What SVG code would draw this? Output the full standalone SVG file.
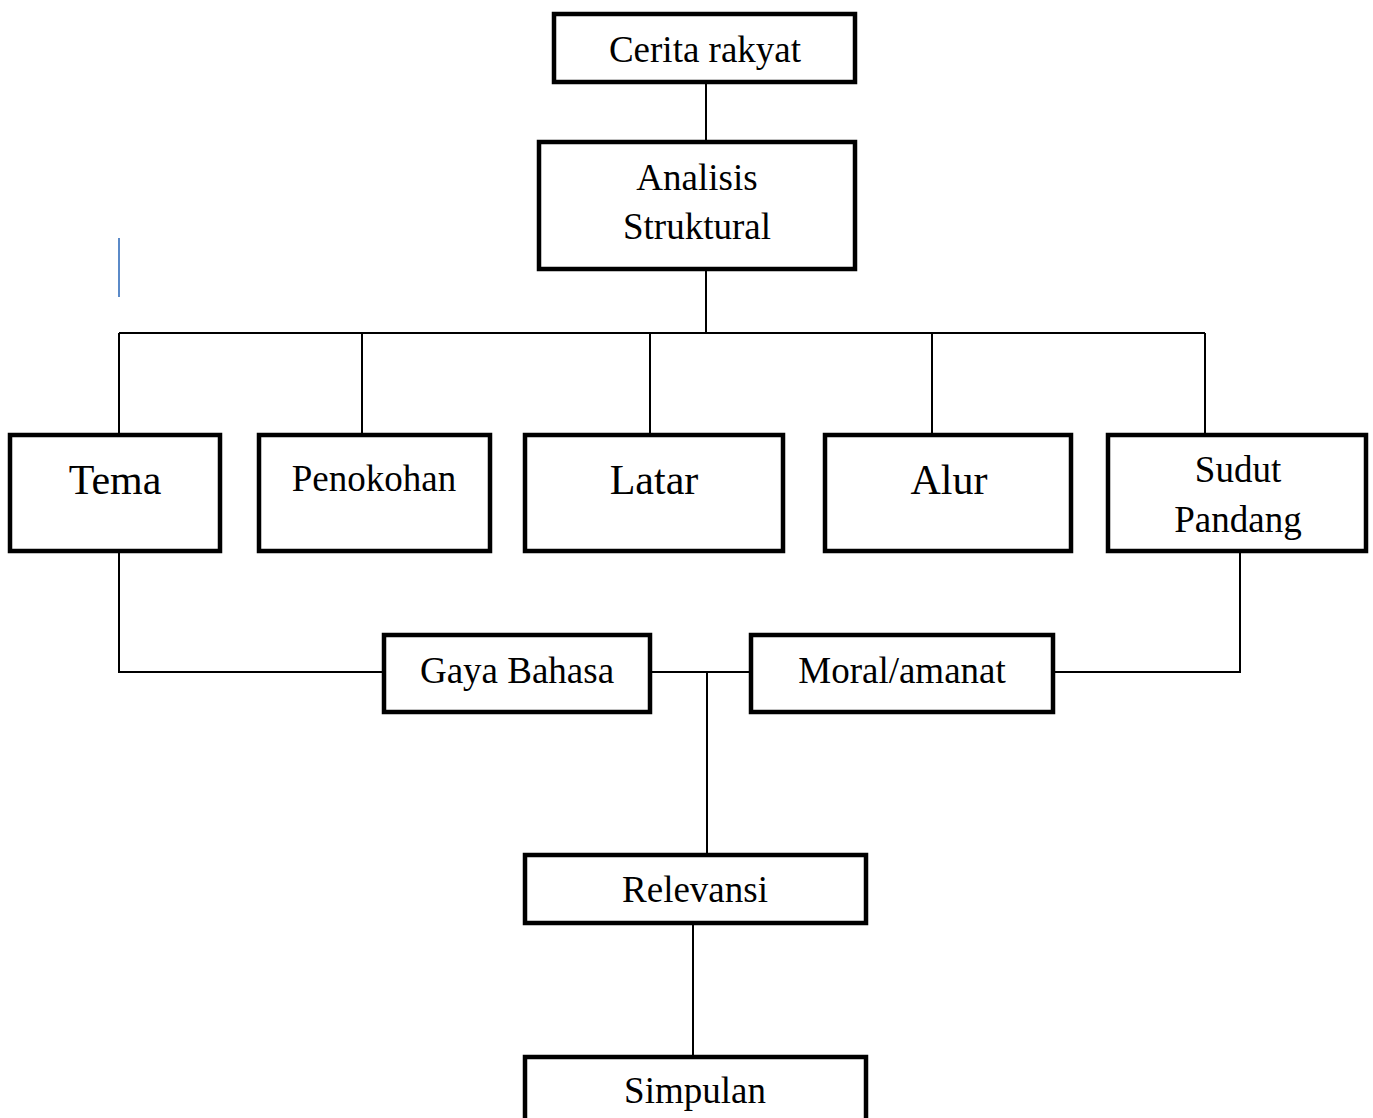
<svg xmlns="http://www.w3.org/2000/svg" width="1373" height="1118" viewBox="0 0 1373 1118">
<style>
.box{fill:#fff;stroke:#000;stroke-width:4.5}
.t{font-family:"Liberation Serif","Times New Roman",serif;font-size:37px;fill:#000;text-anchor:middle}
.big{font-size:42px}
.c{fill:none;stroke:#000;stroke-width:2}
</style>
<rect width="1373" height="1118" fill="#fff"/>
<g id="connectors">
<line class="c" x1="706" y1="83" x2="706" y2="142"/>
<line class="c" x1="706" y1="270" x2="706" y2="333"/>
<line class="c" x1="119" y1="333" x2="1205" y2="333"/>
<line class="c" x1="119" y1="333" x2="119" y2="435"/>
<line class="c" x1="362" y1="333" x2="362" y2="435"/>
<line class="c" x1="650" y1="333" x2="650" y2="435"/>
<line class="c" x1="932" y1="333" x2="932" y2="435"/>
<line class="c" x1="1205" y1="333" x2="1205" y2="435"/>
<polyline class="c" points="119,553 119,672 383,672"/>
<polyline class="c" points="1240,553 1240,672 1055,672"/>
<line class="c" x1="651" y1="672" x2="750" y2="672"/>
<line class="c" x1="707" y1="672" x2="707" y2="853"/>
<line class="c" x1="693" y1="925" x2="693" y2="1055"/>
</g>
<line x1="119" y1="238" x2="119" y2="297" stroke="#5b8ac8" stroke-width="2"/>
<g id="cerita"><rect class="box" x="554" y="14" width="301" height="68"/><text class="t" x="705" y="62">Cerita rakyat</text></g>
<g id="analisis"><rect class="box" x="539" y="142" width="316" height="127"/><text class="t" x="697" y="190">Analisis</text><text class="t" x="697" y="239">Struktural</text></g>
<g id="tema"><rect class="box" x="10" y="435" width="210" height="116"/><text class="t big" x="115" y="494">Tema</text></g>
<g id="penokohan"><rect class="box" x="259" y="435" width="231" height="116"/><text class="t" x="374" y="491">Penokohan</text></g>
<g id="latar"><rect class="box" x="525" y="435" width="258" height="116"/><text class="t big" x="654" y="494">Latar</text></g>
<g id="alur"><rect class="box" x="825" y="435" width="246" height="116"/><text class="t big" x="949" y="494">Alur</text></g>
<g id="sudut"><rect class="box" x="1108" y="435" width="258" height="116"/><text class="t" x="1238" y="482">Sudut</text><text class="t" x="1238" y="532">Pandang</text></g>
<g id="gaya"><rect class="box" x="384" y="635" width="266" height="77"/><text class="t" x="517" y="683">Gaya Bahasa</text></g>
<g id="moral"><rect class="box" x="751" y="635" width="302" height="77"/><text class="t" x="902" y="683">Moral/amanat</text></g>
<g id="relevansi"><rect class="box" x="525" y="855" width="341" height="68"/><text class="t" x="695" y="902">Relevansi</text></g>
<g id="simpulan"><rect class="box" x="525" y="1057" width="341" height="80"/><text class="t" x="695" y="1103">Simpulan</text></g>
</svg>
